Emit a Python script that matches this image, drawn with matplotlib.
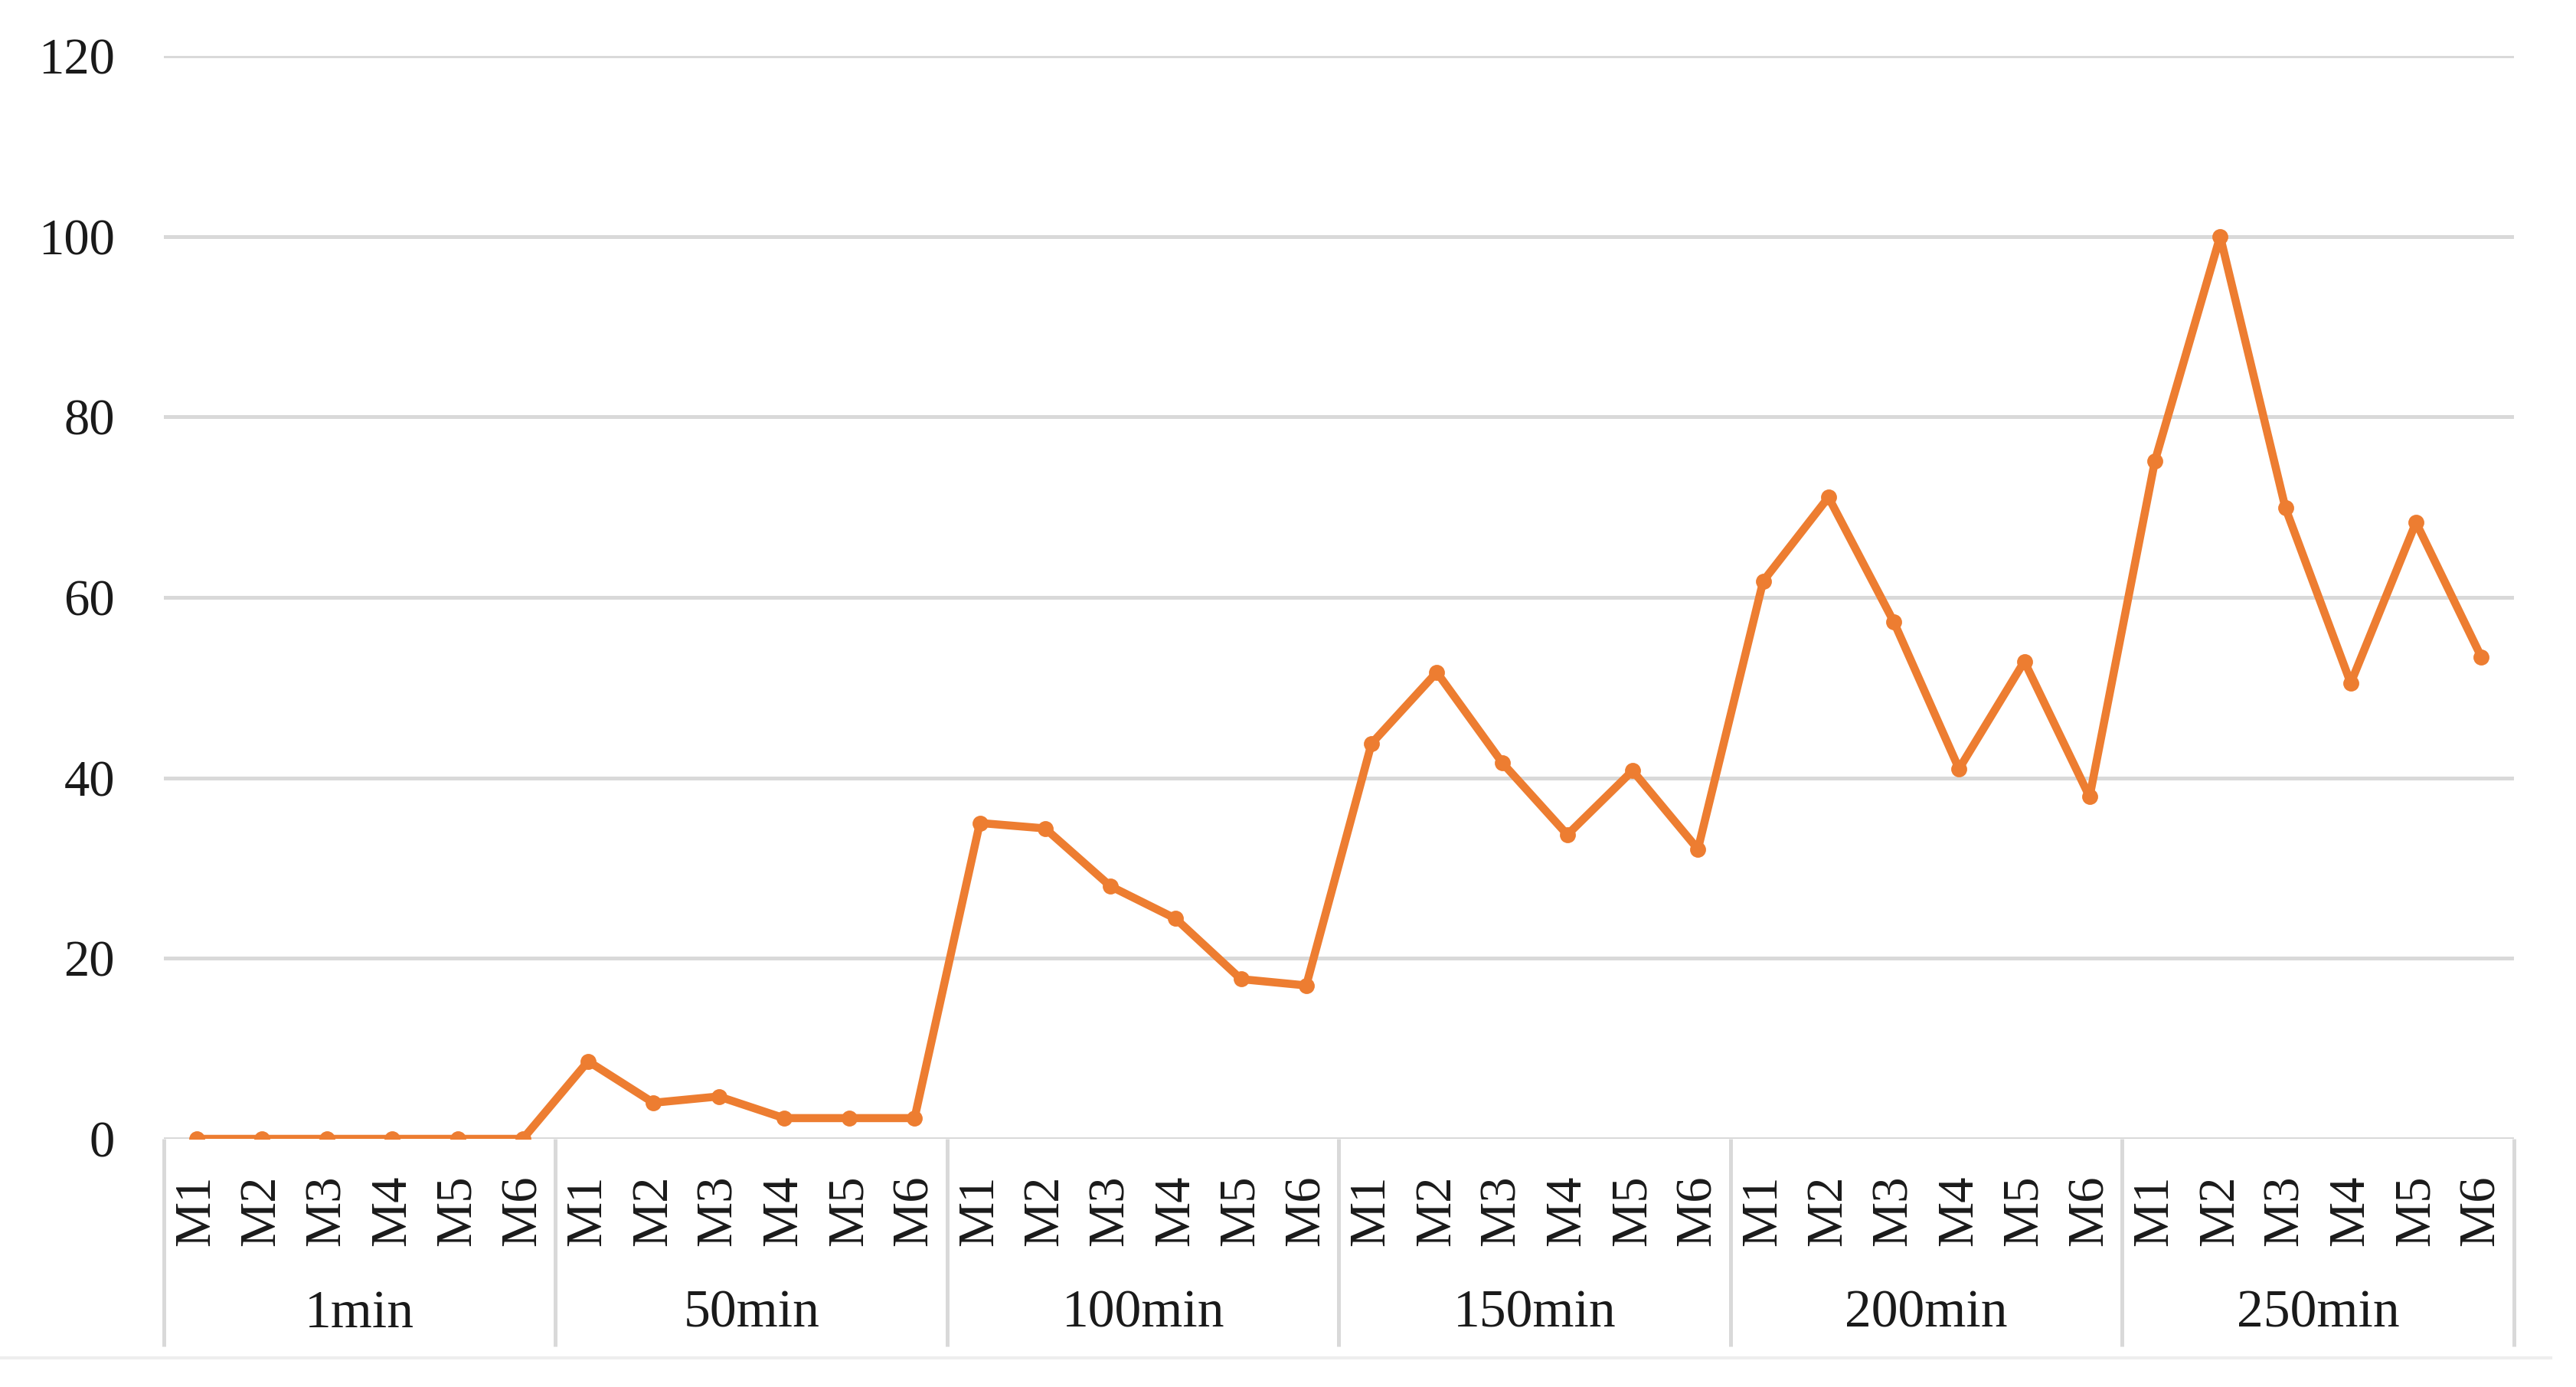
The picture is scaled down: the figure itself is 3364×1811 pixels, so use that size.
import matplotlib.pyplot as plt
import numpy as np

plt.rcParams['font.family'] = ['Liberation Serif', 'DejaVu Serif']

# Data
groups = ['1min', '50min', '100min', '150min', '200min', '250min']
members = ['M1', 'M2', 'M3', 'M4', 'M5', 'M6']
vals_1min = [0, 0, 0, 0, 0, 0]
vals_50min = [8.6, 4.0, 4.7, 2.3, 2.3, 2.3]
vals_100min = [35.0, 34.4, 28.0, 24.4, 17.7, 17.0]
vals_150min = [43.8, 51.7, 41.7, 33.7, 40.8, 32.1]
vals_200min = [61.8, 71.1, 57.3, 41.0, 52.9, 37.9]
vals_250min = [75.1, 100.0, 69.9, 50.5, 68.3, 53.4]
yticks = [0, 20, 40, 60, 80, 100, 120]

values = vals_1min + vals_50min + vals_100min + vals_150min + vals_200min + vals_250min
labels = members * len(groups)
x = np.arange(len(values))

grid_col = '#D9D9D9'
text_col = '#1A1A1A'

fig = plt.figure(figsize=(16.82, 9.055), dpi=200)
ax = fig.add_axes([0.0636, 0.1789, 0.9759 - 0.0636, 0.9597 - 0.1789])

ax.plot(x, values, color='#ED7D31', lw=3.8, marker='o', ms=6.5, zorder=3)

ax.set_xlim(-0.5, len(values) - 0.5)
ax.set_ylim(0, 120)
ax.set_yticks(yticks)
ax.grid(axis='y', color=grid_col, lw=1.8)
ax.set_axisbelow(True)
for s in ax.spines.values():
    s.set_visible(False)

ax.tick_params(axis='y', length=0, pad=23, labelsize=24, labelcolor=text_col)
ax.set_xticks(x)
ax.set_xticklabels(labels, rotation=90, fontsize=24, color=text_col)
ax.tick_params(axis='x', length=0, pad=17)

# multi-level category axis: separators and group names
n = len(members)
tr = ax.get_xaxis_transform()
bounds = np.arange(0, len(values) + 1, n) - 0.5
ax.vlines(bounds, -0.1917, 0, transform=tr, colors=grid_col, lw=1.8, clip_on=False)
for i, g in enumerate(groups):
    ax.text(i * n + (n - 1) / 2, -0.162, g, transform=tr, ha='center', va='center',
            fontsize=25, color=text_col)

fig.add_artist(plt.Line2D([0, 3331 / 3364], [0.021, 0.021], color='#EEEEEE', lw=1.5))

fig.savefig('out.png', dpi=200)
